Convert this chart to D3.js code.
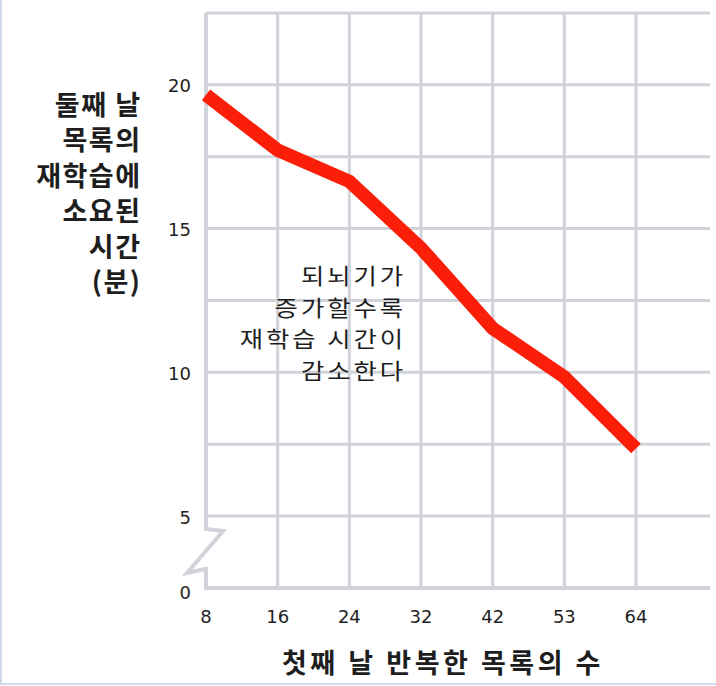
<!DOCTYPE html>
<html>
<head>
<meta charset="utf-8">
<script src="https://cdn.jsdelivr.net/npm/d3@7"></script>
<style>
  html, body { margin: 0; padding: 0; background: #fff; }
  svg { display: block; }
</style>
</head>
<body>
<svg id="chart" width="716" height="686"></svg>
<script>
// ---- data ----
const categories = ["8", "16", "24", "32", "42", "53", "64"];
const relearnMinutes = [19.65, 17.73, 16.64, 14.32, 11.53, 9.84, 7.35];
const yTickValues = [0, 5, 10, 15, 20];
const yGridValues = [5, 7.5, 10, 12.5, 15, 17.5, 20, 22.5];
const yTitleLines = ["둘째 날", "목록의", "재학습에", "소요된", "시간", "(분)"];
const noteLines = ["되뇌기가", "증가할수록", "재학습 시간이", "감소한다"];
const xTitle = "첫째 날 반복한 목록의 수";

// ---- layout ----
const W = 716, H = 686;
const plotLeft = 206, plotRight = 710;
const gridColor = "#d2d3da";
const textColor = "#1e1e1e";
const krFont = "'Noto Sans CJK KR', 'Noto Sans', sans-serif";
const numFont = "'DejaVu Sans', Verdana, sans-serif";

const svg = d3.select("#chart");
svg.append("rect").attr("width", W).attr("height", H).attr("fill", "#fff");
// faint frame on left and bottom
svg.append("path").attr("d", `M1,0 V${H - 2} H${W}`)
  .attr("fill", "none").attr("stroke", "#d3daee").attr("stroke-width", 2);

const x = d3.scalePoint().domain(categories).range([plotLeft, 636]);
// broken axis: 0 sits one grid step below 5
const y = d3.scaleLinear().domain([0, 5, 22.5]).range([588, 516, 13]);

// horizontal gridlines
svg.append("g").selectAll("line").data(yGridValues).join("line")
  .attr("x1", plotLeft).attr("x2", plotRight)
  .attr("y1", d => y(d)).attr("y2", d => y(d))
  .attr("stroke", gridColor).attr("stroke-width", 3);

// vertical gridlines
svg.append("g").selectAll("line").data(categories.slice(1)).join("line")
  .attr("x1", d => x(d)).attr("x2", d => x(d))
  .attr("y1", y(22.5)).attr("y2", y(0))
  .attr("stroke", gridColor).attr("stroke-width", 3);

// axis with break symbol
const x0 = x(categories[0]);
const y5 = y(5), y0 = y(0);
const axisPath = d3.path();
axisPath.moveTo(x0, y(22.5));
axisPath.lineTo(x0, y5 + 13);
axisPath.lineTo(x0 + 17, y5 + 15);
axisPath.lineTo(x0 - 19, y5 + 57);
axisPath.lineTo(x0 - 1, y5 + 53);
axisPath.lineTo(x0, y5 + 53);
axisPath.lineTo(x0, y0);
axisPath.lineTo(plotRight, y0);
svg.append("path").attr("d", axisPath.toString())
  .attr("fill", "none").attr("stroke", gridColor).attr("stroke-width", 4)
  .attr("stroke-linejoin", "miter");

// y tick labels
svg.append("g").selectAll("text").data(yTickValues).join("text")
  .attr("x", 191).attr("y", d => y(d) + (d === 0 ? 4 : 1))
  .attr("text-anchor", "end").attr("dominant-baseline", "central")
  .attr("font-family", numFont).attr("font-size", 18).attr("fill", textColor)
  .text(d => d);

// x tick labels
svg.append("g").selectAll("text").data(categories).join("text")
  .attr("x", d => x(d)).attr("y", 616)
  .attr("text-anchor", "middle").attr("dominant-baseline", "central")
  .attr("font-family", numFont).attr("font-size", 18).attr("fill", textColor)
  .text(d => d);

// data line
const line = d3.line()
  .x((d, i) => x(categories[i]))
  .y(d => y(d));
svg.append("path").datum(relearnMinutes)
  .attr("d", line)
  .attr("fill", "none").attr("stroke", "#fb1e08").attr("stroke-width", 13.5)
  .attr("stroke-linejoin", "miter").attr("stroke-linecap", "butt");

// y axis title
svg.append("g").selectAll("text").data(yTitleLines).join("text")
  .attr("x", 141.5).attr("y", (d, i) => 103 + i * 35.5)
  .attr("text-anchor", "end").attr("dominant-baseline", "central")
  .attr("font-family", krFont).attr("font-weight", "bold")
  .attr("font-size", 27).attr("letter-spacing", 1.5).attr("fill", textColor)
  .text(d => d);

// annotation (slightly widened glyphs, like the reference face)
svg.append("g")
  .attr("transform", "translate(406,0) scale(1.18,1)")
  .selectAll("text").data(noteLines).join("text")
  .attr("x", 0).attr("y", (d, i) => 275 + i * 31.5)
  .attr("text-anchor", "end").attr("dominant-baseline", "central")
  .attr("font-family", krFont).attr("font-size", 21.5).attr("letter-spacing", 2.5)
  .attr("fill", textColor)
  .text(d => d);

// x axis title
svg.append("text")
  .attr("x", 443).attr("y", 661)
  .attr("text-anchor", "middle").attr("dominant-baseline", "central")
  .attr("font-family", krFont).attr("font-weight", "bold")
  .attr("font-size", 27).attr("letter-spacing", 3.5).attr("fill", textColor)
  .text(xTitle);
</script>
</body>
</html>
